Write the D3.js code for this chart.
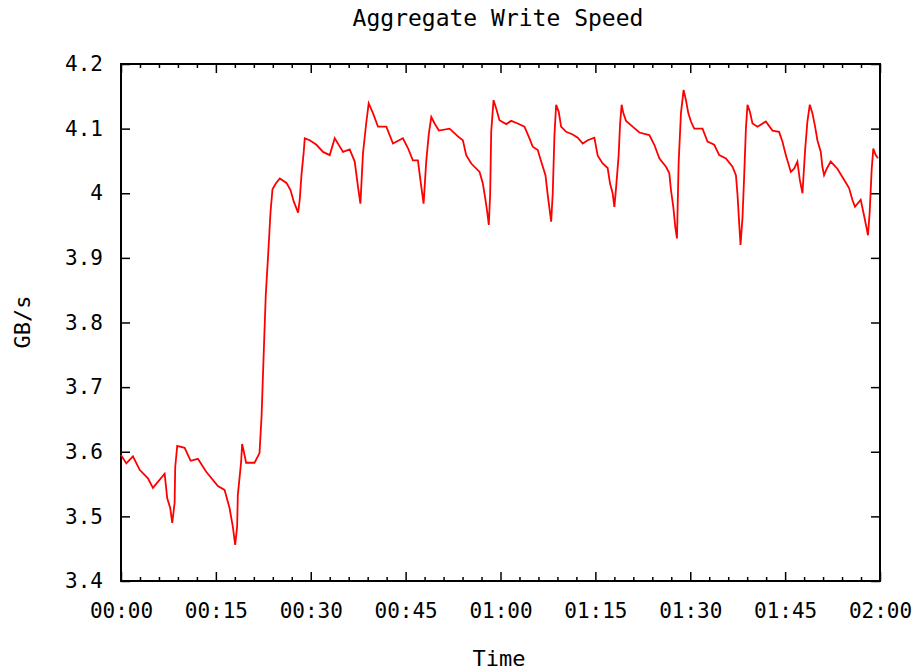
<!DOCTYPE html>
<html>
<head>
<meta charset="utf-8">
<script src="https://cdn.jsdelivr.net/npm/d3@7"></script>
<style>
  body { margin: 0; background: #fff; }
  svg text { font-family: "DejaVu Sans Mono", "Liberation Mono", monospace; fill: #000; }
</style>
</head>
<body>
<div id="chart"></div>
<script>
// time in minutes since start
const minutes = [0, 0.84, 1.89, 2.95, 4.26, 5.05, 6.9, 7.31, 7.78, 8.1, 8.48, 8.57, 8.89, 10.06, 11.01, 12.16, 13.47,
  15.32, 16.37, 17.16, 17.68, 18.05, 18.36, 18.47, 19.0, 19.15, 19.42, 19.78, 21.11, 21.9,
  22.22, 22.58, 22.89, 23.26, 23.64, 23.95, 24.47, 25.11, 26.16, 26.8, 27.32, 28.0, 28.26, 28.53, 28.89, 29.05,
  29.84, 30.9, 31.94, 33.0, 33.79, 35.1, 36.16, 36.95, 37.47, 37.85, 38.26, 38.8, 39.16, 39.84, 40.63, 41.95,
  43.0, 44.57, 45.36, 46.15, 46.94, 47.48, 47.84, 48.27, 48.68, 49.06, 49.58, 50.26, 51.95, 53.26, 54.05,
  54.58, 55.38, 56.69, 57.21, 57.59, 57.9, 58.15, 58.37, 58.53, 58.9, 59.32, 59.84, 60.9, 61.69, 62.73, 63.79,
  64.58, 65.1, 65.89, 66.43, 67.11, 67.47, 68.01, 68.26, 68.53, 68.8, 69.21, 69.58, 70.38, 71.42, 72.21, 73.0,
  73.79, 74.84, 75.37, 76.15, 76.94, 77.32, 77.73, 78.0, 78.27, 78.68, 78.91, 79.15, 79.42, 79.85, 80.89, 81.95,
  83.53, 84.32, 85.11, 86.16, 86.69, 86.95, 87.32, 87.63, 87.9, 88.16, 88.53, 88.95, 89.32, 89.69, 90.11, 90.63,
  91.94, 92.73, 93.79, 94.58, 95.64, 96.68, 97.22, 97.47, 97.74, 97.95, 98.26, 98.53, 98.8, 99.05, 99.43, 99.84,
  100.63, 101.95, 103.0, 104.05, 104.57, 105.11, 105.9, 106.42, 106.94, 107.32, 107.74, 108.16, 108.52, 108.9,
  109.31, 109.74, 110.1, 110.64, 110.89, 111.16, 111.58, 112.21, 113.26, 114.32, 115.11, 115.63, 116.05, 116.95,
  117.47, 117.84, 118.1, 118.37, 118.68, 118.94, 119.32, 119.68];

// aggregate write speed, GB/s
const speed = [3.595, 3.582, 3.593, 3.572, 3.559, 3.544, 3.566, 3.528, 3.513, 3.49, 3.521, 3.576, 3.609, 3.606, 3.586, 3.589, 3.569,
  3.547, 3.541, 3.513, 3.484, 3.456, 3.484, 3.533, 3.585, 3.612, 3.6, 3.583, 3.583, 3.598,
  3.654, 3.757, 3.843, 3.904, 3.971, 4.006, 4.015, 4.023, 4.016, 4.005, 3.987, 3.97, 3.99, 4.028, 4.064, 4.085,
  4.082, 4.075, 4.064, 4.059, 4.085, 4.064, 4.068, 4.049, 4.01, 3.984, 4.062, 4.111, 4.139, 4.124, 4.103, 4.103,
  4.077, 4.085, 4.07, 4.051, 4.051, 4.01, 3.984, 4.051, 4.093, 4.118, 4.108, 4.097, 4.1, 4.088, 4.082,
  4.059, 4.046, 4.033, 4.015, 3.992, 3.971, 3.951, 4.0, 4.095, 4.144, 4.131, 4.113, 4.107, 4.112, 4.108, 4.103,
  4.085, 4.072, 4.067, 4.049, 4.028, 3.997, 3.956, 4.0, 4.09, 4.137, 4.126, 4.103, 4.095, 4.091, 4.086, 4.077,
  4.082, 4.086, 4.058, 4.046, 4.039, 4.015, 4.0, 3.979, 4.008, 4.059, 4.108, 4.137, 4.124, 4.112, 4.103, 4.094,
  4.09, 4.075, 4.054, 4.041, 4.031, 4.005, 3.979, 3.948, 3.93, 4.046, 4.124, 4.16, 4.144, 4.124, 4.111, 4.1,
  4.1, 4.08, 4.075, 4.059, 4.054, 4.041, 4.028, 3.998, 3.953, 3.92, 3.962, 4.028, 4.1, 4.137, 4.126, 4.108,
  4.103, 4.111, 4.097, 4.095, 4.08, 4.059, 4.033, 4.038, 4.049, 4.021, 4.0, 4.067, 4.111, 4.137,
  4.124, 4.103, 4.082, 4.064, 4.041, 4.028, 4.038, 4.049, 4.038, 4.021, 4.008, 3.99, 3.979, 3.99,
  3.966, 3.948, 3.935, 3.971, 4.036, 4.069, 4.059, 4.054];

const xTickMinutes = [0, 15, 30, 45, 60, 75, 90, 105, 120];
const yTickValues = [3.4, 3.5, 3.6, 3.7, 3.8, 3.9, 4.0, 4.1, 4.2];

const width = 915, height = 670;
const margin = { top: 64, right: 35, bottom: 89, left: 121 };
const w = width - margin.left - margin.right;
const h = height - margin.top - margin.bottom;

const svg = d3.select('#chart').append('svg')
    .attr('width', width).attr('height', height);
const g = svg.append('g').attr('transform', `translate(${margin.left},${margin.top})`);

const x = d3.scaleLinear().domain([0, 120]).range([0, w]);
const y = d3.scaleLinear().domain([3.4, 4.2]).range([h, 0]);

const fmtTime = m => String(Math.floor(m / 60)).padStart(2, '0') + ':' + String(m % 60).padStart(2, '0');
const fmtVal = v => d3.format('.1f')(v).replace(/\.0$/, '');

const minorTicks = d3.range(0, 121, 3).filter(m => m % 15 !== 0);

function styleAxis(sel) {
    sel.select('.domain').remove();
    sel.selectAll('line').attr('stroke', '#000').attr('stroke-width', 1.5);
    sel.selectAll('text').style('font-size', '21px');
}

// bottom and top axes (ticks pointing inward)
g.append('g').attr('transform', `translate(0,${h})`)
    .call(d3.axisBottom(x).tickValues(xTickMinutes).tickFormat(fmtTime).tickSizeInner(-9).tickSizeOuter(0).tickPadding(22))
    .call(styleAxis);
g.append('g').attr('transform', `translate(0,${h})`)
    .call(d3.axisBottom(x).tickValues(minorTicks).tickFormat('').tickSizeInner(-4).tickSizeOuter(0))
    .call(styleAxis);
g.append('g')
    .call(d3.axisTop(x).tickValues(xTickMinutes).tickFormat('').tickSizeInner(-9).tickSizeOuter(0))
    .call(styleAxis);
g.append('g')
    .call(d3.axisTop(x).tickValues(minorTicks).tickFormat('').tickSizeInner(-4).tickSizeOuter(0))
    .call(styleAxis);

// left and right axes
g.append('g')
    .call(d3.axisLeft(y).tickValues(yTickValues).tickFormat(fmtVal).tickSizeInner(-9).tickSizeOuter(0).tickPadding(18))
    .call(styleAxis);
g.append('g').attr('transform', `translate(${w},0)`)
    .call(d3.axisRight(y).tickValues(yTickValues).tickFormat('').tickSizeInner(-9).tickSizeOuter(0))
    .call(styleAxis);

// frame
g.append('rect')
    .attr('width', w).attr('height', h)
    .attr('fill', 'none').attr('stroke', '#000').attr('stroke-width', 2);

// the series
const data = minutes.map((m, i) => ({ m: m, v: speed[i] }));
const line = d3.line().x(d => x(d.m)).y(d => y(d.v));
g.append('path')
    .datum(data)
    .attr('d', line)
    .attr('fill', 'none')
    .attr('stroke', '#ff0000')
    .attr('stroke-width', 1.8)
    .attr('stroke-linejoin', 'miter');

// titles
svg.append('text')
    .attr('x', 498).attr('y', 26)
    .attr('text-anchor', 'middle').style('font-size', '23px')
    .text('Aggregate Write Speed');
svg.append('text')
    .attr('x', 499).attr('y', 666)
    .attr('text-anchor', 'middle').style('font-size', '22px')
    .text('Time');
svg.append('text')
    .attr('transform', 'translate(30,322) rotate(-90)')
    .attr('text-anchor', 'middle').style('font-size', '22px')
    .text('GB/s');
</script>
</body>
</html>
